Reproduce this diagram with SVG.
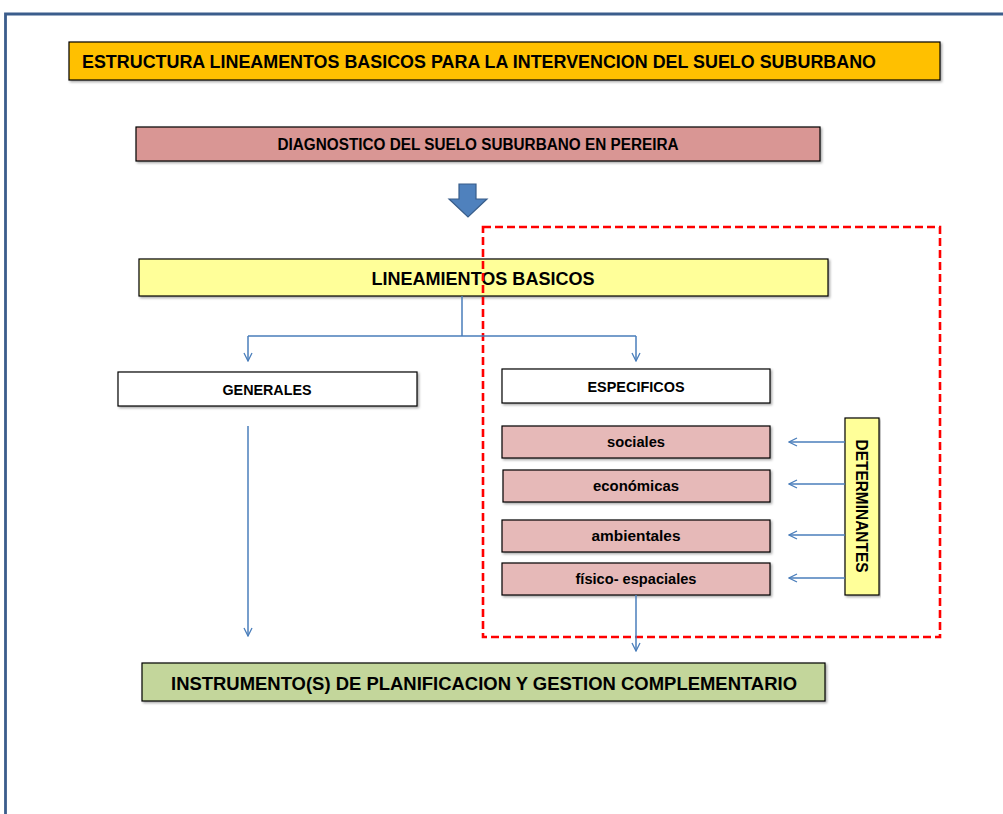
<svg xmlns="http://www.w3.org/2000/svg" width="1003" height="814" viewBox="0 0 1003 814">
  <defs>
    <marker id="head" viewBox="0 0 10 10" refX="9" refY="5" markerWidth="10" markerHeight="10" markerUnits="userSpaceOnUse" orient="auto">
      <path d="M1,1 L9,5 L1,9" fill="none" stroke="#4A7EBB" stroke-width="1.3"/>
    </marker>
    <filter id="shadow" x="-5%" y="-20%" width="110%" height="150%">
      <feDropShadow dx="1.5" dy="1.5" stdDeviation="0.8" flood-color="#000" flood-opacity="0.35"/>
    </filter>
  </defs>
  <style>
    .box { stroke: #000; stroke-width: 1.2; filter: url(#shadow); }
    .lbl { font-family: "Liberation Sans", Arial, sans-serif; font-weight: bold; fill: #000; text-anchor: middle; }
    .conn { stroke: #4A7EBB; stroke-width: 1.5; fill: none; }
    .arr { marker-end: url(#head); }
  </style>

  <rect width="1003" height="814" fill="#fff"/>
  <!-- page frame -->
  <path d="M5.5,814 L5.5,14 L1003,14" fill="none" stroke="#3B5D8C" stroke-width="2.8"/>

  <g id="title">
    <rect class="box" x="69" y="42" width="871" height="38" fill="#FFC000"/>
    <text class="lbl" x="479" y="68" font-size="18.5" textLength="794" lengthAdjust="spacingAndGlyphs">ESTRUCTURA LINEAMENTOS BASICOS PARA LA INTERVENCION DEL SUELO SUBURBANO</text>
  </g>

  <g id="diagnostico">
    <rect class="box" x="136" y="127" width="684" height="34" fill="#D99694"/>
    <text class="lbl" x="478" y="150" font-size="16" textLength="401" lengthAdjust="spacingAndGlyphs">DIAGNOSTICO DEL SUELO SUBURBANO EN PEREIRA</text>
  </g>

  <g id="flecha">
    <path d="M459,184 L476,184 L476,199 L487,199 L468,217 L449,199 L459,199 Z" fill="#4F81BD" stroke="#385D8A" stroke-width="1.2"/>
  </g>

  <g id="lineamientos">
    <rect class="box" x="139" y="259" width="689" height="37" fill="#FFFF99"/>
    <text class="lbl" x="483" y="285" font-size="18.5" textLength="223" lengthAdjust="spacingAndGlyphs">LINEAMIENTOS BASICOS</text>
  </g>

  <g id="generales">
    <rect class="box" x="118" y="372" width="299" height="34" fill="#fff"/>
    <text class="lbl" x="267" y="395" font-size="15.5" textLength="89" lengthAdjust="spacingAndGlyphs">GENERALES</text>
  </g>

  <g id="especificos">
    <rect class="box" x="502" y="369" width="268" height="34" fill="#fff"/>
    <text class="lbl" x="636" y="392" font-size="15.5" textLength="97" lengthAdjust="spacingAndGlyphs">ESPECIFICOS</text>
  </g>

  <g id="sociales">
    <rect class="box" x="502" y="426" width="268" height="32" fill="#E6B9B8"/>
    <text class="lbl" x="636" y="447" font-size="15" textLength="58" lengthAdjust="spacingAndGlyphs">sociales</text>
  </g>

  <g id="economicas">
    <rect class="box" x="503" y="470" width="267" height="32" fill="#E6B9B8"/>
    <text class="lbl" x="636" y="491" font-size="15" textLength="86" lengthAdjust="spacingAndGlyphs">económicas</text>
  </g>

  <g id="ambientales">
    <rect class="box" x="502" y="520" width="268" height="32" fill="#E6B9B8"/>
    <text class="lbl" x="636" y="541" font-size="15" textLength="89" lengthAdjust="spacingAndGlyphs">ambientales</text>
  </g>

  <g id="fisico-espaciales">
    <rect class="box" x="502" y="563" width="268" height="32" fill="#E6B9B8"/>
    <text class="lbl" x="636" y="584" font-size="15" textLength="121" lengthAdjust="spacingAndGlyphs">físico- espaciales</text>
  </g>

  <g id="determinantes">
    <rect class="box" x="845" y="418" width="34" height="177" fill="#FFFF99"/>
    <text class="lbl" x="862" y="512" font-size="16" textLength="133" lengthAdjust="spacingAndGlyphs" transform="rotate(90 862 506)">DETERMINANTES</text>
  </g>

  <g id="instrumentos">
    <rect class="box" x="142" y="663" width="683" height="38" fill="#C3D69B"/>
    <text class="lbl" x="484" y="690" font-size="18.5" textLength="626" lengthAdjust="spacingAndGlyphs">INSTRUMENTO(S) DE PLANIFICACION  Y GESTION COMPLEMENTARIO</text>
  </g>

  <!-- dashed frame grouping the specific lines -->
  <g id="marco-especificos">
    <rect x="483" y="227" width="457" height="410" fill="none" stroke="#FF0000" stroke-width="2.6" stroke-dasharray="8,4"/>
  </g>

  <g id="connectors">
    <path class="conn" d="M462,296 L462,336 M248,336 L636,336"/>
    <path class="conn arr" d="M248,336 L248,361"/>
    <path class="conn arr" d="M636,336 L636,361"/>
    <path class="conn arr" d="M248,426 L248,636"/>
    <path class="conn arr" d="M636,595 L636,651"/>
    <path class="conn arr" d="M845,442 L789,442"/>
    <path class="conn arr" d="M845,484 L789,484"/>
    <path class="conn arr" d="M845,535 L789,535"/>
    <path class="conn arr" d="M845,578 L789,578"/>
  </g>
</svg>
